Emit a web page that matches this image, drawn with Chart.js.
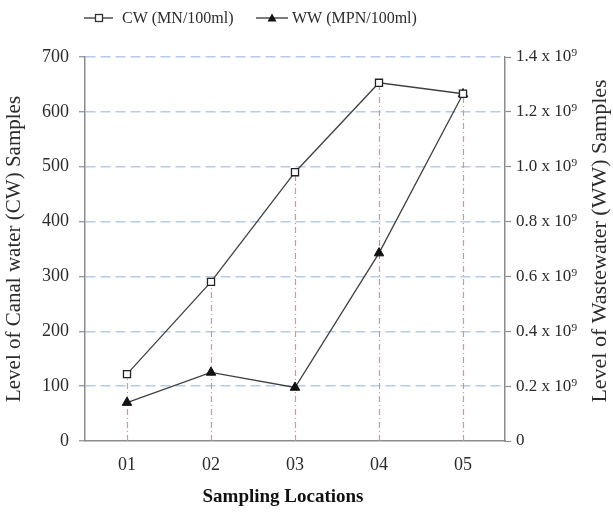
<!DOCTYPE html>
<html>
<head>
<meta charset="utf-8">
<script src="https://cdn.jsdelivr.net/npm/chart.js@4"></script>
<style>
  html, body { margin: 0; padding: 0; background: #fff; }
  #wrap { width: 613px; height: 513px; }
</style>
</head>
<body>
<div id="wrap"><canvas id="chart1" width="613" height="513"></canvas></div>
<script>
// data
var locations = ['01', '02', '03', '04', '05'];
var cwValues = [122, 290, 490, 653, 633];                       // MN/100ml, left axis
var wwValues = [0.14e9, 0.25e9, 0.195e9, 0.685e9, 1.265e9];     // MPN/100ml, right axis
var rightTickLabels = ['0', '0.2 x 10\u2079', '0.4 x 10\u2079', '0.6 x 10\u2079',
                       '0.8 x 10\u2079', '1.0 x 10\u2079', '1.2 x 10\u2079', '1.4 x 10\u2079'];

var serif = '"Liberation Serif", "Times New Roman", serif';
var textColor = '#2b2b2b';
var axisColor = '#8c8c8c';
var gridColor = '#b6cbe8';

// vertical dash-dot drop lines from the axis up to the highest point
var dropLines = {
    id: 'dropLines',
    beforeDatasetsDraw: function (chart) {
        var ctx = chart.ctx;
        var x = chart.scales.x;
        var y = chart.scales.y;
        var y1 = chart.scales.y1;
        ctx.save();
        ctx.strokeStyle = '#e48e8e';
        ctx.lineWidth = 1.2;
        ctx.setLineDash([6, 3, 1, 3]);
        locations.forEach(function (loc, i) {
            var px = Math.round(x.getPixelForValue(i)) + 0.5;
            var top = Math.min(y.getPixelForValue(cwValues[i]), y1.getPixelForValue(wwValues[i]));
            ctx.beginPath();
            ctx.moveTo(px, y.bottom);
            ctx.lineTo(px, top);
            ctx.stroke();
        });
        ctx.restore();
    }
};

// legend with line + marker, the x title and the right title reading upward
var extras = {
    id: 'extras',
    afterDraw: function (chart) {
        var ctx = chart.ctx;
        var area = chart.chartArea;
        ctx.save();
        ctx.font = '16px ' + serif;
        ctx.fillStyle = textColor;
        ctx.textBaseline = 'middle';

        var ly = 18;
        ctx.strokeStyle = '#333';
        ctx.lineWidth = 1.3;
        // CW item
        ctx.beginPath(); ctx.moveTo(84, ly); ctx.lineTo(113, ly); ctx.stroke();
        ctx.fillStyle = '#fff';
        ctx.fillRect(95.5, ly - 3.5, 7, 7);
        ctx.strokeRect(95.5, ly - 3.5, 7, 7);
        ctx.fillStyle = textColor;
        ctx.fillText('CW (MN/100ml)', 122, ly + 1);
        // WW item
        ctx.beginPath(); ctx.moveTo(256, ly); ctx.lineTo(288, ly); ctx.stroke();
        ctx.fillStyle = '#111';
        ctx.beginPath();
        ctx.moveTo(272, ly - 4.5); ctx.lineTo(276.5, ly + 3.5); ctx.lineTo(267.5, ly + 3.5);
        ctx.closePath(); ctx.fill();
        ctx.fillStyle = textColor;
        ctx.fillText('WW (MPN/100ml)', 292, ly + 1);

        // x title
        ctx.textAlign = 'center';
        ctx.fillStyle = '#111';
        ctx.font = 'bold 19px ' + serif;
        ctx.fillText('Sampling Locations', 283, 497);

        // right axis title
        ctx.font = '22px ' + serif;
        ctx.fillStyle = textColor;
        ctx.translate(600, (area.top + area.bottom) / 2 - 8);
        ctx.rotate(-Math.PI / 2);
        ctx.fillText('Level of Wastewater (WW) Samples', 0, 0);
        ctx.restore();
    }
};

var config1 = {
    type: 'line',
    data: {
        labels: locations,
        datasets: [{
            label: 'CW (MN/100ml)',
            data: cwValues,
            yAxisID: 'y',
            borderColor: '#404040',
            borderWidth: 1.3,
            pointStyle: 'rect',
            pointRadius: 5,
            pointBorderWidth: 1.3,
            pointBorderColor: '#222',
            pointBackgroundColor: '#fff',
            tension: 0
        }, {
            label: 'WW (MPN/100ml)',
            data: wwValues,
            yAxisID: 'y1',
            borderColor: '#404040',
            borderWidth: 1.3,
            pointStyle: 'triangle',
            pointRadius: 5.5,
            pointBorderWidth: 1,
            pointBorderColor: '#111',
            pointBackgroundColor: '#111',
            tension: 0
        }]
    },
    options: {
        responsive: false,
        animation: false,
        layout: { padding: { top: 57, left: 0, right: 0, bottom: 0 } },
        plugins: {
            legend: { display: false },
            tooltip: { enabled: false }
        },
        scales: {
            x: {
                offset: true,
                grid: { display: false, drawTicks: false },
                border: { color: axisColor, width: 1.5 },
                ticks: { color: textColor, font: { family: serif, size: 18 }, padding: 13 },
                afterFit: function (s) { s.height = 72; }
            },
            y: {
                position: 'left',
                min: 0, max: 700,
                ticks: { stepSize: 100, color: textColor, font: { family: serif, size: 18 }, padding: 10 },
                grid: {
                    color: function (c) { return c.tick && c.tick.value === 0 ? 'rgba(0,0,0,0)' : gridColor; },
                    lineWidth: 1.5,
                    tickColor: axisColor,
                    tickLength: 6,
                    tickWidth: 1.2,
                    tickBorderDash: []
                },
                border: { color: axisColor, width: 1.5, dash: [10, 5] },
                title: {
                    display: true, text: 'Level of Canal water (CW) Samples', color: textColor,
                    font: { family: serif, size: 21 }, padding: { top: 2, bottom: 0 }
                },
                afterFit: function (s) { s.width = 85; }
            },
            y1: {
                position: 'right',
                min: 0, max: 1.4e9,
                ticks: {
                    stepSize: 0.2e9, color: textColor, font: { family: serif, size: 17 }, padding: 5,
                    callback: function (v) { return rightTickLabels[Math.round(v / 0.2e9)]; }
                },
                grid: { drawOnChartArea: false, tickColor: axisColor, tickLength: 6, tickWidth: 1.2, color: axisColor },
                border: { color: axisColor, width: 1.5 },
                afterFit: function (s) { s.width = 108; }
            }
        }
    },
    plugins: [dropLines, extras]
};

var ctx1 = document.getElementById('chart1').getContext('2d');
new Chart(ctx1, config1);
</script>
</body>
</html>
